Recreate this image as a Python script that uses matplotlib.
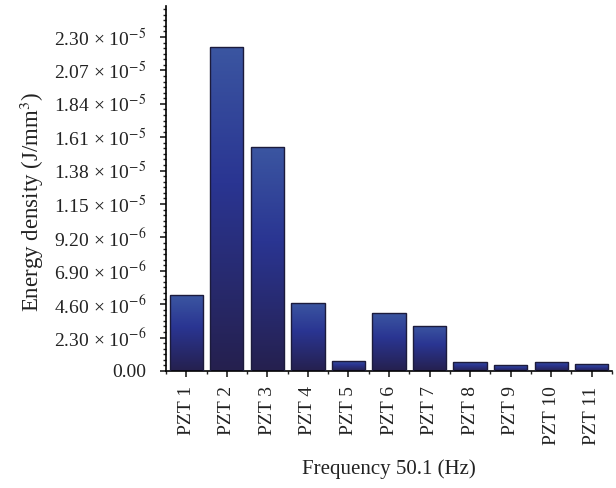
import numpy as np
import matplotlib
matplotlib.use("Agg")
from matplotlib import pyplot as plt
from matplotlib.colors import LinearSegmentedColormap
from matplotlib.ticker import FixedLocator, AutoMinorLocator, MultipleLocator

etiquetas = ["PZT 1", "PZT 2", "PZT 3", "PZT 4", "PZT 5", "PZT 6",
             "PZT 7", "PZT 8", "PZT 9", "PZT 10", "PZT 11"]
energia = [5.22e-6, 2.232e-5, 1.546e-5, 4.69e-6, 6.9e-7, 3.96e-6,
           3.10e-6, 6.2e-7, 4.1e-7, 6.2e-7, 4.8e-7]
yticks = [0, 2.3e-6, 4.6e-6, 6.9e-6, 9.2e-6, 1.15e-5, 1.38e-5,
          1.61e-5, 1.84e-5, 2.07e-5, 2.30e-5]
ylabels = ["0.00", "2.30 × 10$^{-6}$", "4.60 × 10$^{-6}$",
           "6.90 × 10$^{-6}$", "9.20 × 10$^{-6}$",
           "1.15 × 10$^{-5}$", "1.38 × 10$^{-5}$",
           "1.61 × 10$^{-5}$", "1.84 × 10$^{-5}$",
           "2.07 × 10$^{-5}$", "2.30 × 10$^{-5}$"]

plt.rcParams["font.family"] = ["Liberation Serif", "DejaVu Serif"]
plt.rcParams["mathtext.fontset"] = "stix"

fig = plt.figure(figsize=(6.16, 4.88), dpi=100)
ax = fig.add_axes([0.2695, 0.2398, 0.724, 0.748])

x = np.arange(len(etiquetas))
barras = ax.bar(x, energia, width=0.82, color="none",
                edgecolor="#1c1b3c", linewidth=1.0, zorder=3)

# degradê vertical em cada barra
cmap = LinearSegmentedColormap.from_list(
    "grad", [(0, "#25204e"), (0.58, "#2a3592"), (1, "#3b56a1")])
grad = np.linspace(0, 1, 256).reshape(-1, 1)
for b in barras:
    x0, y0 = b.get_x(), b.get_y()
    w, h = b.get_width(), b.get_height()
    im = ax.imshow(grad, cmap=cmap, aspect="auto", origin="lower",
                   extent=[x0, x0 + w, y0, y0 + h], zorder=2)
    im.set_clip_path(b)

ax.set_xlim(-0.5, 10.5)
ax.set_ylim(0, 2.514e-5)

ax.spines["top"].set_visible(False)
ax.spines["right"].set_visible(False)
ax.spines["left"].set_linewidth(1.2)
ax.spines["bottom"].set_linewidth(1.2)

ax.yaxis.set_major_locator(FixedLocator(yticks))
ax.set_yticklabels(ylabels)
ax.yaxis.set_minor_locator(AutoMinorLocator(6))
ax.set_xticks(x)
ax.set_xticklabels(etiquetas, rotation=90)
ax.xaxis.set_minor_locator(MultipleLocator(1, offset=0.5))

ax.tick_params(axis="both", which="major", direction="out", length=4,
               width=1.2, labelsize=14, colors="#222222")
ax.tick_params(axis="both", which="minor", direction="out", length=2.2,
               width=1.0, colors="#222222")
ax.tick_params(axis="y", which="major", pad=10)
ax.tick_params(axis="x", which="major", pad=7)

ax.set_xlabel("Frequency 50.1 (Hz)", fontsize=15, color="#222222")
ax.set_ylabel("Energy density (J/mm$^3$)", fontsize=16.5, color="#222222")
ax.xaxis.set_label_coords(0.5, -0.243)
ax.yaxis.set_label_coords(-0.268, 0.464)

fig.savefig("out.png", dpi=100)
